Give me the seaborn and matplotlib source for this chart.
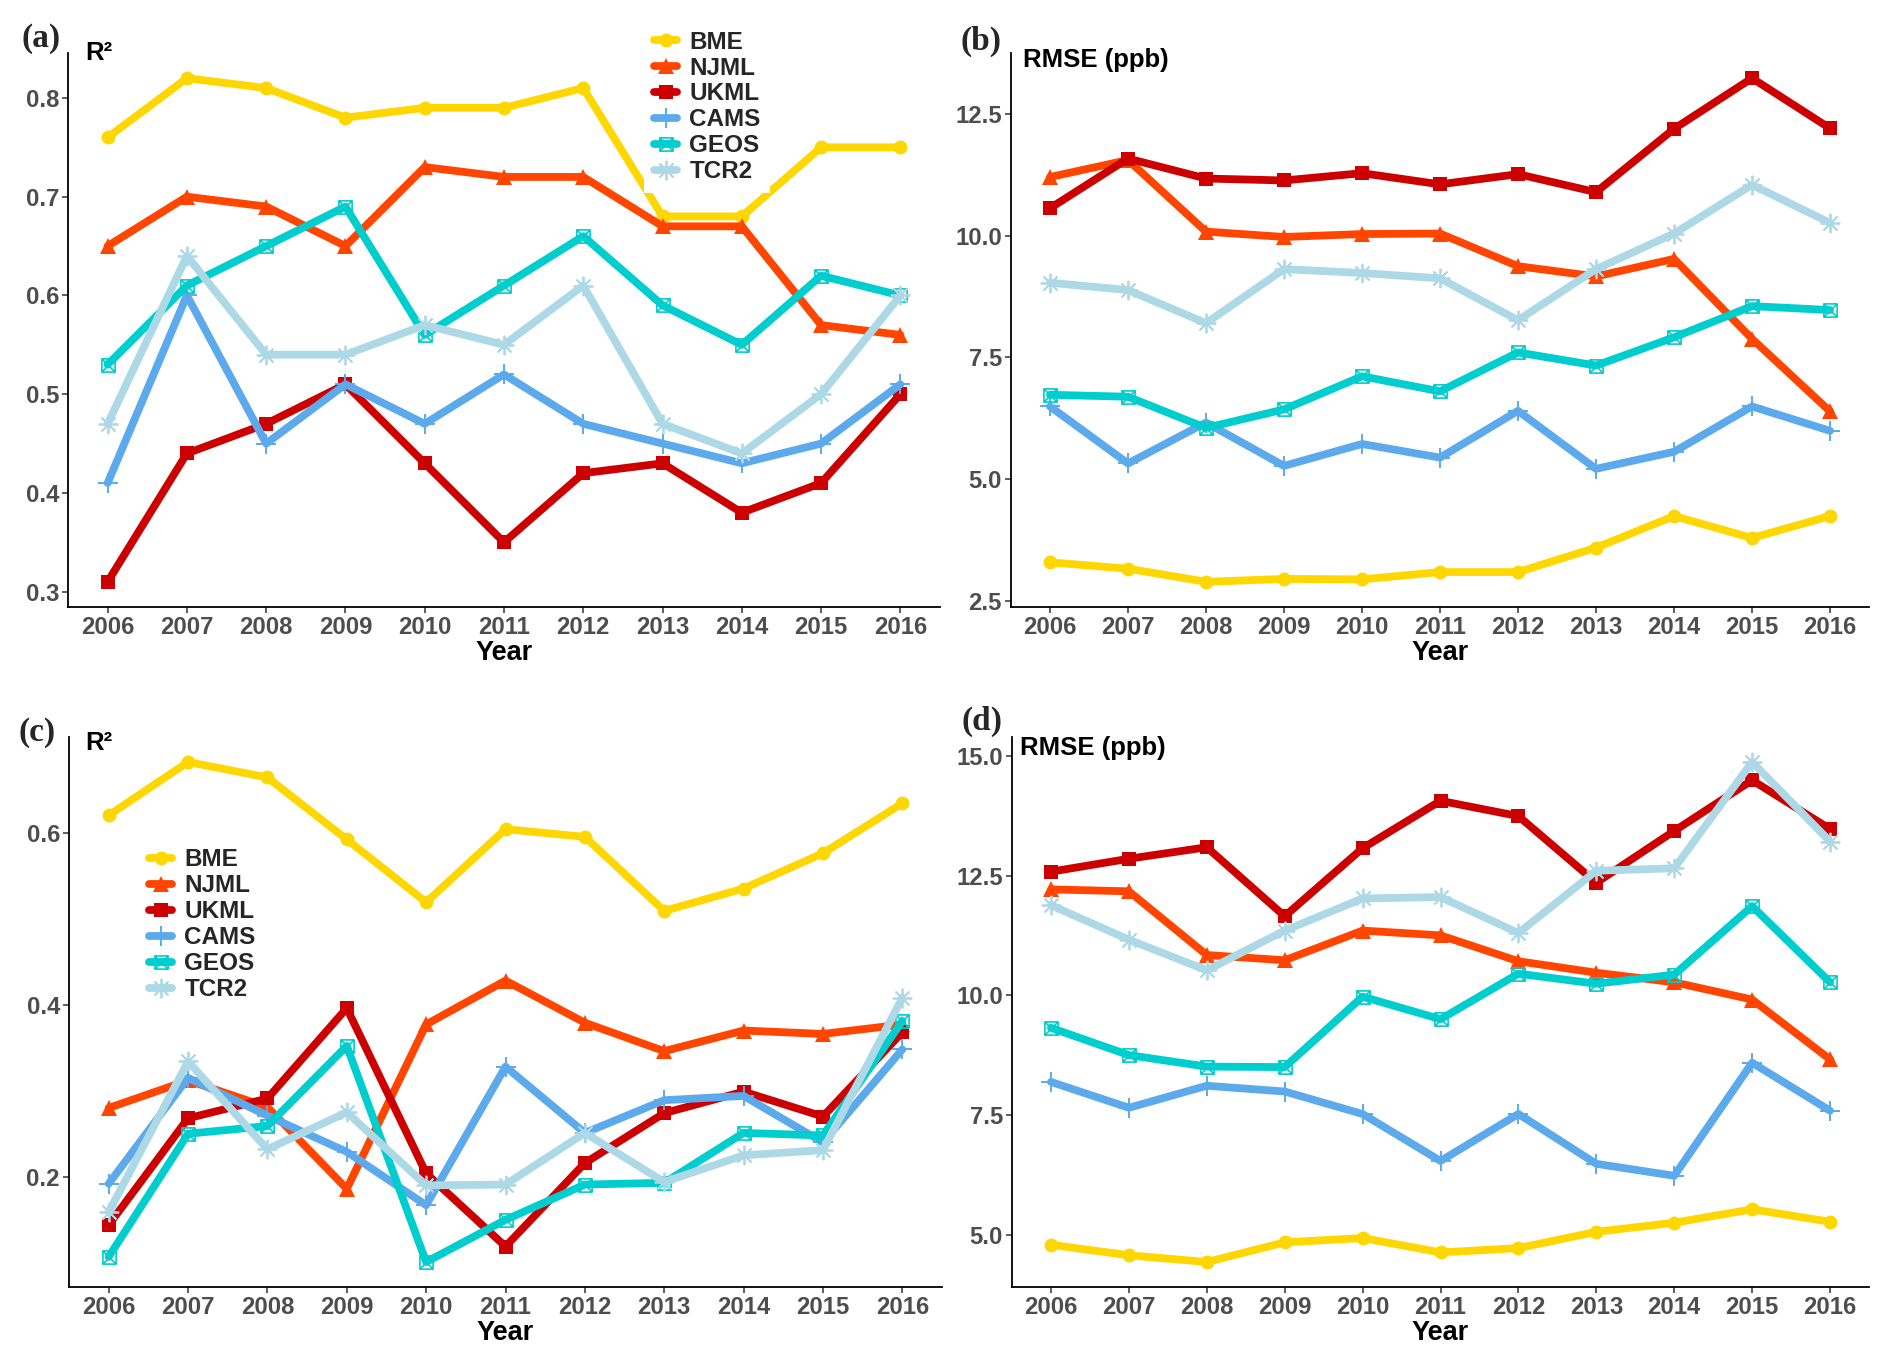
import numpy as np
import pandas as pd
import matplotlib
matplotlib.use("Agg")
import matplotlib.pyplot as plt
import seaborn as sns
from matplotlib.path import Path

# ---------------- data ----------------
years = list(range(2006, 2017))
models = ["BME", "NJML", "UKML", "CAMS", "GEOS", "TCR2"]

# panel (a) R2
a_BME = [0.76, 0.82, 0.81, 0.78, 0.79, 0.79, 0.81, 0.68, 0.68, 0.75, 0.75]
a_NJML = [0.65, 0.70, 0.69, 0.65, 0.73, 0.72, 0.72, 0.67, 0.67, 0.57, 0.56]
a_UKML = [0.31, 0.44, 0.47, 0.51, 0.43, 0.35, 0.42, 0.43, 0.38, 0.41, 0.50]
a_CAMS = [0.41, 0.60, 0.45, 0.51, 0.47, 0.52, 0.47, 0.45, 0.43, 0.45, 0.51]
a_GEOS = [0.53, 0.61, 0.65, 0.69, 0.56, 0.61, 0.66, 0.59, 0.55, 0.62, 0.60]
a_TCR2 = [0.47, 0.64, 0.54, 0.54, 0.57, 0.55, 0.61, 0.47, 0.44, 0.50, 0.60]

# panel (b) RMSE (ppb)
b_BME = [3.29, 3.16, 2.89, 2.95, 2.94, 3.09, 3.09, 3.59, 4.24, 3.79, 4.24]
b_NJML = [11.20, 11.55, 10.08, 9.97, 10.03, 10.04, 9.37, 9.16, 9.52, 7.88, 6.39]
b_UKML = [10.56, 11.58, 11.17, 11.13, 11.28, 11.05, 11.26, 10.89, 12.19, 13.23, 12.20]
b_CAMS = [6.49, 5.32, 6.16, 5.27, 5.72, 5.44, 6.40, 5.21, 5.56, 6.49, 5.99]
b_GEOS = [6.73, 6.69, 6.05, 6.43, 7.11, 6.80, 7.60, 7.33, 7.91, 8.55, 8.47]
b_TCR2 = [9.03, 8.88, 8.20, 9.31, 9.23, 9.12, 8.26, 9.31, 10.04, 11.04, 10.26]

# panel (c) R2
c_BME = [0.620, 0.682, 0.664, 0.592, 0.519, 0.604, 0.595, 0.509, 0.535, 0.576, 0.634]
c_NJML = [0.280, 0.312, 0.281, 0.186, 0.377, 0.428, 0.379, 0.346, 0.370, 0.366, 0.377]
c_UKML = [0.144, 0.268, 0.291, 0.396, 0.204, 0.119, 0.216, 0.274, 0.299, 0.270, 0.368]
c_CAMS = [0.192, 0.315, 0.271, 0.229, 0.167, 0.328, 0.251, 0.289, 0.294, 0.240, 0.348]
c_GEOS = [0.107, 0.250, 0.259, 0.352, 0.101, 0.150, 0.191, 0.193, 0.251, 0.248, 0.381]
c_TCR2 = [0.159, 0.334, 0.232, 0.275, 0.190, 0.191, 0.251, 0.194, 0.225, 0.231, 0.408]

# panel (d) RMSE (ppb)
d_BME = [4.79, 4.57, 4.43, 4.84, 4.93, 4.63, 4.72, 5.06, 5.25, 5.53, 5.27]
d_NJML = [12.21, 12.17, 10.84, 10.73, 11.35, 11.25, 10.71, 10.47, 10.27, 9.91, 8.66]
d_UKML = [12.58, 12.85, 13.09, 11.65, 13.07, 14.06, 13.74, 12.35, 13.43, 14.49, 13.47]
d_CAMS = [8.19, 7.65, 8.11, 7.99, 7.52, 6.54, 7.52, 6.48, 6.23, 8.59, 7.59]
d_GEOS = [9.32, 8.75, 8.51, 8.50, 9.97, 9.50, 10.45, 10.24, 10.43, 11.86, 10.27]
d_TCR2 = [11.88, 11.16, 10.52, 11.35, 12.02, 12.05, 11.30, 12.60, 12.65, 14.87, 13.21]

panel_tags = ["(a)", "(b)", "(c)", "(d)"]
y_titles = ["R\u00b2", "RMSE (ppb)", "R\u00b2", "RMSE (ppb)"]
x_title = "Year"
a_yticks = [0.3, 0.4, 0.5, 0.6, 0.7, 0.8]
b_yticks = [2.5, 5.0, 7.5, 10.0, 12.5]
c_yticks = [0.2, 0.4, 0.6]
d_yticks = [5.0, 7.5, 10.0, 12.5, 15.0]

# ---------------- style ----------------
colors = {"BME": "#FFD700", "NJML": "#FF4500", "UKML": "#CC0000",
          "CAMS": "#5CA9EC", "GEOS": "#00CDCD", "TCR2": "#ADD8E6"}

sq_cross = Path([(-1, -1), (1, -1), (1, 1), (-1, 1), (-1, -1),
                 (-1, -1), (1, 1), (-1, 1), (1, -1)],
                [Path.MOVETO, Path.LINETO, Path.LINETO, Path.LINETO, Path.CLOSEPOLY,
                 Path.MOVETO, Path.LINETO, Path.MOVETO, Path.LINETO])

mstyle = {
    "BME": dict(marker="o", markersize=10, markeredgewidth=0),
    "NJML": dict(marker="^", markersize=11, markeredgewidth=0),
    "UKML": dict(marker="s", markersize=9.5, markeredgewidth=0),
    "CAMS": dict(marker="+", markersize=14, markeredgewidth=1.4),
    "GEOS": dict(marker=sq_cross, markersize=9.5, markeredgewidth=1.2, markerfacecolor="none"),
    "TCR2": dict(marker=(8, 2, 0), markersize=14, markeredgewidth=1.3),
}

sns.set_theme(style="white")
plt.rcParams["font.family"] = ["Liberation Sans", "DejaVu Sans"]
plt.rcParams["font.weight"] = "bold"

W, H = 1892, 1360
fig = plt.figure(figsize=(W / 100, H / 100), dpi=100)


def add_ax(l, t, r, b):
    return fig.add_axes([l / W, 1 - b / H, (r - l) / W, (b - t) / H])


panels = [
    dict(data=[a_BME, a_NJML, a_UKML, a_CAMS, a_GEOS, a_TCR2], box=(68, 53, 940, 607),
         yticks=a_yticks, legend=(0.661, 1.058), tag_xy=(21, 38.5), yt_xy=(85, 60)),
    dict(data=[b_BME, b_NJML, b_UKML, b_CAMS, b_GEOS, b_TCR2], box=(1011, 53, 1869, 607),
         yticks=b_yticks, legend=None, tag_xy=(960, 41.5), yt_xy=(1023, 67)),
    dict(data=[c_BME, c_NJML, c_UKML, c_CAMS, c_GEOS, c_TCR2], box=(69, 737, 942, 1287),
         yticks=c_yticks, legend=(0.0806, 0.815), tag_xy=(19, 732), yt_xy=(85, 750)),
    dict(data=[d_BME, d_NJML, d_UKML, d_CAMS, d_GEOS, d_TCR2], box=(1012, 737, 1869, 1287),
         yticks=d_yticks, legend=None, tag_xy=(961, 721.5), yt_xy=(1020, 755)),
]

for i, p in enumerate(panels):
    ax = add_ax(*p["box"])
    for name, vals in zip(models, p["data"]):
        kw = dict(mstyle[name])
        if "markerfacecolor" not in kw:
            kw["markerfacecolor"] = colors[name]
        sns.lineplot(x=years, y=vals, ax=ax, color=colors[name], linewidth=5.6,
                     markeredgecolor=colors[name], label=name, legend=False,
                     solid_joinstyle="round", **kw)
    ax.set_xticks(years)
    ax.set_yticks(p["yticks"])
    ax.set_yticklabels([f"{v:.1f}" for v in p["yticks"]])
    ax.margins(x=0.05, y=0.05)
    ax.set_xlabel(x_title, fontsize=19.5, fontweight="bold", color="black", labelpad=1)
    ax.set_ylabel("")
    for s in ["top", "right"]:
        ax.spines[s].set_visible(False)
    for s in ["left", "bottom"]:
        ax.spines[s].set_color("black")
        ax.spines[s].set_linewidth(1.3)
    ax.tick_params(axis="both", which="major", labelsize=17.2, labelcolor="#4D4D4D",
                   color="#333333", length=4.5, width=1.1, pad=2, bottom=True, left=True)
    ax.grid(False)
    if p["legend"] is not None:
        ax.legend(loc="upper left", bbox_to_anchor=p["legend"], frameon=True,
                  facecolor="white", edgecolor="none", framealpha=1, fancybox=False,
                  prop=dict(size=17.5, weight="bold"), handlelength=0.95,
                  handletextpad=0.5, labelspacing=0.12, borderpad=0.4, borderaxespad=0)
    else:
        leg = ax.get_legend()
        if leg is not None:
            leg.remove()
    tx, ty = p["tag_xy"]
    fig.text(tx / W, 1 - ty / H, panel_tags[i], ha="left", va="center",
             fontsize=24, fontweight="bold", family=["Liberation Serif", "DejaVu Serif"])
    yx, yy = p["yt_xy"]
    fig.text(yx / W, 1 - yy / H, y_titles[i], ha="left", va="baseline",
             fontsize=18.5, fontweight="bold", color="black")

fig.savefig("out.png", dpi=100, facecolor="white")
